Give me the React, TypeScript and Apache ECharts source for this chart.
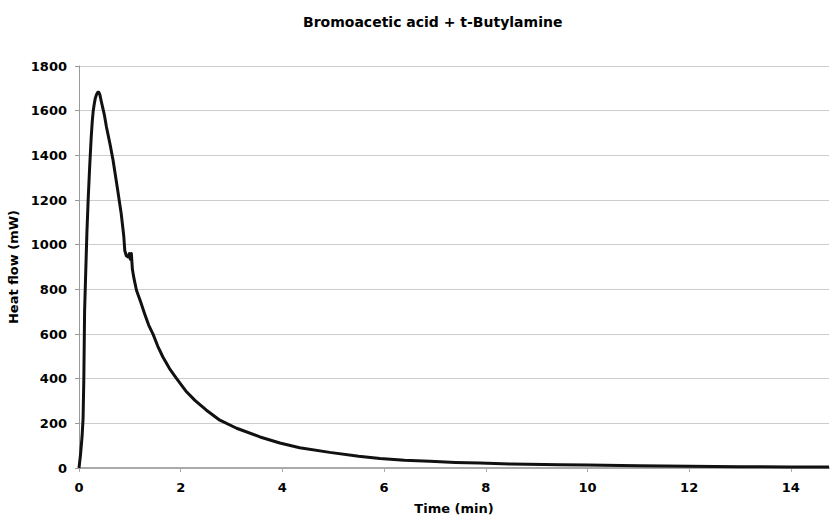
import React, { useEffect, useRef } from "react";
import * as echarts from "echarts";

const titleText = "Bromoacetic acid + t-Butylamine";
const xName = "Time (min)";
const yName = "Heat flow (mW)";

const timeMin = [
  0, 0.03, 0.06, 0.08, 0.095, 0.11, 0.13, 0.155, 0.18, 0.21, 0.24, 0.26, 0.28, 0.3, 0.32, 0.345,
  0.37, 0.39, 0.41, 0.44, 0.5, 0.54, 0.61, 0.67, 0.75, 0.83, 0.88, 0.9, 0.93, 0.965, 0.99, 1.01,
  1.03, 1.05, 1.08, 1.13, 1.21, 1.29, 1.37, 1.46, 1.55, 1.65, 1.78, 1.92, 2.1, 2.28, 2.5, 2.77,
  3.1, 3.56, 3.95, 4.34, 4.93, 5.5, 5.92, 6.4, 6.9, 7.4, 7.88, 8.5, 9.46, 10, 11, 12, 13, 14,
  14.75,
];
const heatFlow = [
  0, 60, 140, 220, 400, 700, 860, 1050, 1200, 1350, 1480, 1550, 1600, 1630, 1655, 1672,
  1682, 1682, 1672, 1640, 1580, 1527, 1450, 1378, 1260, 1139, 1040, 974, 950, 945, 960, 935,
  960, 890, 850, 796, 745, 691, 640, 597, 545, 497, 445, 400, 345, 303, 260, 214,
  178, 139, 112, 91, 70, 53, 43, 35, 30, 25, 22, 18, 15, 13, 10, 8, 6, 5,
  4,
];

export default function App() {
  const ref = useRef<HTMLDivElement>(null);
  useEffect(() => {
    if (!ref.current) return;
    const chart = echarts.init(ref.current, null, { renderer: "svg" });
    const font = "'DejaVu Sans', Verdana, sans-serif";
    chart.setOption({
      animation: false,
      backgroundColor: "#ffffff",
      title: {
        text: titleText,
        left: 298,
        top: 10,
        textStyle: { fontFamily: font, fontSize: 14, fontWeight: "bold", color: "#000" },
      },
      grid: {
        left: 79,
        top: 66,
        right: 1,
        bottom: 51,
        containLabel: false,
        outerBoundsMode: "none",
      },
      xAxis: {
        type: "value",
        min: 0,
        max: 14.75,
        interval: 2,
        name: xName,
        nameLocation: "middle",
        nameGap: 34,
        nameTextStyle: { fontFamily: font, fontSize: 13, fontWeight: "bold", color: "#000" },
        axisLine: { show: true, lineStyle: { color: "#aaaaaa", width: 2 } },
        axisTick: { show: true, length: 4, lineStyle: { color: "#aaaaaa" } },
        axisLabel: {
          showMaxLabel: false,
          margin: 13,
          fontFamily: font,
          fontSize: 13,
          fontWeight: "bold",
          color: "#000",
          formatter: (v: number) => (v % 2 === 0 ? String(v) : ""),
        },
        splitLine: { show: false },
      },
      yAxis: {
        type: "value",
        min: 0,
        max: 1800,
        interval: 200,
        name: yName,
        nameLocation: "middle",
        nameGap: 55,
        nameTextStyle: { fontFamily: font, fontSize: 13, fontWeight: "bold", color: "#000" },
        axisLine: { show: true, lineStyle: { color: "#999999", width: 1 } },
        axisTick: { show: true, length: 4, lineStyle: { color: "#999999" } },
        axisLabel: {
          margin: 12,
          fontFamily: font,
          fontSize: 13,
          fontWeight: "bold",
          color: "#000",
          formatter: (v: number) => String(v),
        },
        splitLine: { show: true, lineStyle: { color: "#cccccc", width: 1 } },
      },
      series: [
        {
          type: "line",
          data: timeMin.map((t, i) => [t, heatFlow[i]]),
          showSymbol: false,
          smooth: false,
          lineStyle: { color: "#111111", width: 3, join: "round" },
        },
      ],
    });
    return () => chart.dispose();
  }, []);
  return (
    <div
      ref={ref}
      style={{ position: "absolute", left: 0, top: 0, width: 830, height: 519 }}
    />
  );
}
